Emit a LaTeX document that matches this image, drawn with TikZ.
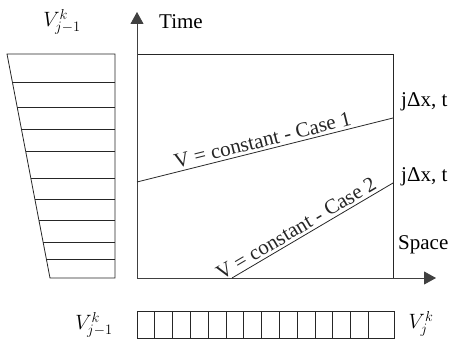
\documentclass[tikz,border=0pt]{standalone}
\usepackage{fontspec}
\setmainfont{Liberation Serif}
\usetikzlibrary{arrows.meta}
\begin{document}
\begin{tikzpicture}[x=1pt,y=-1pt,
  lbl/.style={inner sep=0pt,font=\fontsize{21}{25}\selectfont},
  ln/.style={line width=0.8pt,black!85},
  axis/.style={line width=0.8pt,black!75,-{Triangle[length=12pt,width=13pt]}},
  caselbl/.style={sloped,above,inner sep=2.5pt,font=\fontsize{21}{25}\selectfont}]
\useasboundingbox (0,0) rectangle (457,339);
% axes
\coordinate (O) at (137,278);
\coordinate (ytip) at (137,12);
\coordinate (xtip) at (436,278);
\coordinate (TL) at (137,54);
\coordinate (TR) at (393,54);
\coordinate (BR) at (393,278);
\draw[ln] (TL) -- (TR) -- (BR);
\draw[axis] (O) -- (ytip);
\draw[axis] (O) -- (xtip);
% case lines
\coordinate (c1a) at (137,182);
\coordinate (c1b) at (393,118);
\coordinate (c2a) at (232,278);
\coordinate (c2b) at (393,183);
\draw[ln] (c1a) -- node[caselbl,pos=0.5] (case1) {V = constant - Case 1} (c1b);
\draw[ln] (c2a) -- node[caselbl,pos=0.43] (case2) {V = constant - Case 2} (c2b);
% labels
\node[lbl,anchor=base west] (time) at (159,29) {Time};
\node[lbl,anchor=base west] (jdx1) at (401,107) {jΔx, t};
\node[lbl,anchor=base west] (jdx2) at (401,181) {jΔx, t};
\node[lbl,anchor=base west] (space) at (398,249) {Space};
\node[lbl] (vtop) at (62,22) {$V^k_{j-1}$};
\node[lbl] (vbl) at (94,325) {$V^k_{j-1}$};
\node[lbl] (vbr) at (421,324) {$V^k_{j}$};
% trapezoid
\draw[ln] (7,54) -- (115,54) -- (115,278) -- (50,278) -- cycle;
\foreach \yy in {82,107,129,151,178,199,220,242,259}{
  \draw[ln] ({7+(\yy-54)*43/224},\yy) -- (115,\yy);
}
% bottom strip
\draw[ln] (137,311) rectangle (394,338);
\foreach \i in {1,...,13}{
  \draw[ln] ({137+17.8*\i},311) -- ({137+17.8*\i},338);
}
\end{tikzpicture}
\end{document}
